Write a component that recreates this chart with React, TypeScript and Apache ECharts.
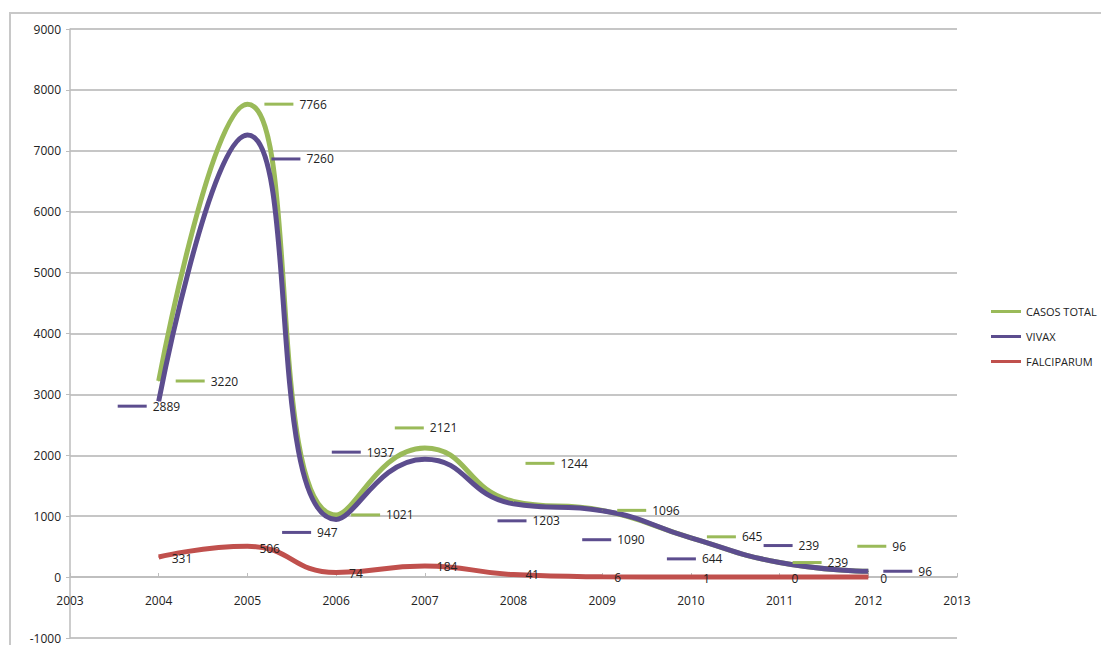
import React, { useEffect, useRef } from "react";
import * as echarts from "echarts";

const years = [2004, 2005, 2006, 2007, 2008, 2009, 2010, 2011, 2012];
const casosTotal = [3220, 7766, 1021, 2121, 1244, 1096, 645, 239, 96];
const vivax = [2889, 7260, 947, 1937, 1203, 1090, 644, 239, 96];
const falciparum = [331, 506, 74, 184, 41, 6, 1, 0, 0];
const seriesNames = ["CASOS TOTAL", "VIVAX", "FALCIPARUM"];

// label placement (pixel offsets from each point), styling only
const totalLabelOffsets = [[17, 0], [17, 0], [15, 0], [-30, -20], [12, -38], [15, 0], [16, -1], [13, 0], [-11, -25]];
const vivaxLabelOffsets = [[-41, 5], [24, 24], [-54, 13], [-93, -7], [-16, 17], [-20, 29], [-24, 21], [-16, -17], [15, 0]];
const falciLabelOffsets = [[13, 2], [12, 2], [13, 1], [12, 1], [12, 0], [12, 1], [12, 1], [12, 1], [12, 1]];

const GREEN = "#9aba59";
const PURPLE = "#5c4d8e";
const RED = "#c0504d";
const FONT = "Open Sans";

function buildSeries(name: string, values: number[], color: string, offsets: number[][], dash: boolean) {
  return {
    name,
    type: "line",
    smooth: 0.5,
    symbol: "circle",
    symbolSize: 1,
    showSymbol: true,
    lineStyle: { color, width: 5 },
    itemStyle: { color },
    data: years.map((y, i) => ({
      value: [y, values[i]],
      label: {
        show: true,
        position: "inside",
        align: "left",
        verticalAlign: "middle",
        offset: offsets[i],
        formatter: dash ? `{d| }{t|${values[i]}}` : `{t|${values[i]}}`,
        rich: {
          d: { width: 29, height: 3, backgroundColor: color, lineHeight: 3 },
          t: { fontFamily: FONT, fontSize: 12, color: "#222", padding: dash ? [0, 0, 0, 6] : 0 },
        },
      },
    })),
  };
}

export default function App() {
  const ref = useRef<HTMLDivElement>(null);
  useEffect(() => {
    document.body.style.margin = "0";
    const chart = echarts.init(ref.current!, null, { renderer: "svg" });
    chart.setOption({
      animation: false,
      backgroundColor: "#ffffff",
      textStyle: { fontFamily: FONT },
      graphic: [
        {
          type: "rect",
          shape: { x: 10, y: 13, width: 1200, height: 800 },
          style: { fill: "none", stroke: "#c8c8c8", lineWidth: 2 },
          z: -10,
          silent: true,
        },
      ],
      grid: { left: 70, right: 144, top: 29, bottom: 7, containLabel: false },
      legend: {
        orient: "vertical",
        left: 986,
        top: 301,
        itemWidth: 30,
        itemHeight: 3,
        itemGap: 14,
        icon: "rect",
        data: seriesNames,
        textStyle: { fontFamily: FONT, fontSize: 11, color: "#222" },
      },
      xAxis: {
        type: "value",
        min: 2003,
        max: 2013,
        interval: 1,
        position: "bottom",
        offset: -61,
        axisLine: { onZero: false, lineStyle: { color: "#bdbdbd", width: 1.5 } },
        axisTick: { show: true, length: 4, inside: true, lineStyle: { color: "#bdbdbd" } },
        splitLine: { show: false },
        axisLabel: {
          formatter: (v: number) => String(v),
          margin: 17,
          fontFamily: FONT,
          fontSize: 12,
          color: "#222",
          showMinLabel: true,
          showMaxLabel: true,
        },
      },
      yAxis: {
        type: "value",
        min: -1000,
        max: 9000,
        interval: 1000,
        axisLine: { show: true, onZero: false, lineStyle: { color: "#bdbdbd", width: 1.5 } },
        axisTick: { show: true, length: 4, lineStyle: { color: "#bdbdbd" } },
        splitLine: { show: true, lineStyle: { color: "#c6c6c6", width: 2 } },
        axisLabel: { formatter: (v: number) => String(v), margin: 9, fontFamily: FONT, fontSize: 12, color: "#222" },
      },
      series: [
        buildSeries(seriesNames[0], casosTotal, GREEN, totalLabelOffsets, true),
        buildSeries(seriesNames[1], vivax, PURPLE, vivaxLabelOffsets, true),
        buildSeries(seriesNames[2], falciparum, RED, falciLabelOffsets, false),
      ],
    });
    return () => chart.dispose();
  }, []);
  return <div ref={ref} style={{ width: 1101, height: 645 }} />;
}
